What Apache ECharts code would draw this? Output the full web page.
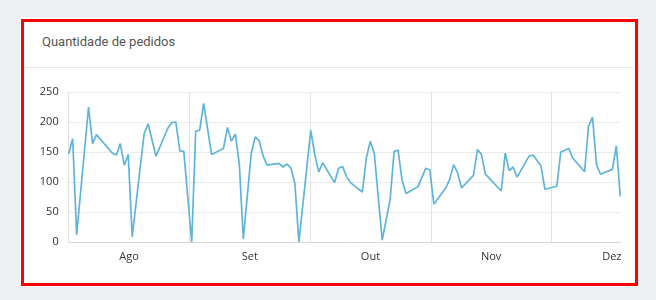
<!DOCTYPE html>
<html>
<head>
<meta charset="utf-8">
<script src="https://cdn.jsdelivr.net/npm/echarts@6/dist/echarts.min.js"></script>
<style>
  html, body { margin: 0; padding: 0; width: 656px; height: 300px; background: #eef0f4; overflow: hidden; }
  #card { position: absolute; left: 20px; top: 17px; width: 618px; height: 270px; background: #fff; box-shadow: 0 0 2px rgba(0,0,0,0.05); }
  #title { position: absolute; left: 42px; top: 34px; font-family: Roboto, "Open Sans", sans-serif; font-size: 13px; color: #555; }
  #sep { position: absolute; left: 24px; top: 67px; width: 610px; height: 1px; background: #e9e9ec; }
  #redbox { position: absolute; left: 21px; top: 19px; width: 617px; height: 267px; border: 3px solid #ff0000; box-sizing: border-box; }
  #chart { position: absolute; left: 0; top: 0; width: 656px; height: 300px; }
</style>
</head>
<body>
<div id="card"></div>
<div id="title">Quantidade de pedidos</div>
<div id="sep"></div>
<div id="chart"></div>
<div id="redbox"></div>
<script>
// ---- data ----
const startDate = '2023-07-17';
const dates = [
  '2023-07-17','2023-07-18','2023-07-19','2023-07-22','2023-07-23','2023-07-24','2023-07-28','2023-07-29','2023-07-30','2023-07-31',
  '2023-08-01','2023-08-02','2023-08-05','2023-08-06','2023-08-08','2023-08-11','2023-08-12','2023-08-13','2023-08-14','2023-08-15',
  '2023-08-17','2023-08-18','2023-08-19','2023-08-20','2023-08-22','2023-08-25','2023-08-26','2023-08-27','2023-08-28','2023-08-29',
  '2023-08-30','2023-09-01','2023-09-02','2023-09-03','2023-09-04','2023-09-05','2023-09-08','2023-09-09','2023-09-10','2023-09-11',
  '2023-09-12','2023-09-13','2023-09-16','2023-09-17','2023-09-18','2023-09-19','2023-09-22','2023-09-23','2023-09-24','2023-09-25',
  '2023-09-26','2023-09-29','2023-09-30','2023-10-01','2023-10-02','2023-10-04','2023-10-06','2023-10-07','2023-10-08','2023-10-09',
  '2023-10-10','2023-10-13','2023-10-15','2023-10-16','2023-10-17','2023-10-20','2023-10-21','2023-10-22','2023-10-23','2023-10-24',
  '2023-10-27','2023-10-28','2023-10-29','2023-10-30','2023-11-03','2023-11-04','2023-11-05','2023-11-06','2023-11-07','2023-11-10',
  '2023-11-11','2023-11-13','2023-11-14','2023-11-17','2023-11-18','2023-11-20','2023-11-21','2023-11-24','2023-11-25','2023-11-26',
  '2023-11-27','2023-11-28','2023-12-01','2023-12-02','2023-12-03'
];
const pedidos = [
  147,172,12,225,164,179,148,145,164,128,
  146,9,180,197,143,190,199,200,152,151,
  0,185,186,231,146,156,191,168,180,129,
  5,148,175,169,143,128,131,125,130,123,
  97,0,186,146,117,132,99,123,126,109,
  99,83,140,168,148,3,71,151,153,103,
  81,92,123,120,63,90,104,129,115,90,
  111,154,146,113,85,148,119,125,108,143,
  145,127,88,93,150,156,140,117,193,208,
  129,113,121,160,76
];
const monthLabels = ['Ago', 'Set', 'Out', 'Nov', 'Dez'];
const yTicks = [0, 50, 100, 150, 200, 250];
const totalDays = 139;

// ---- build ----
const dayMs = 86400000;
const t0 = Date.parse(startDate);
const seriesData = dates.map((d, i) => [Math.round((Date.parse(d) - t0) / dayMs), pedidos[i]]);
const halfMonth = 365 / 24;

const chart = echarts.init(document.getElementById('chart'), null, { renderer: 'canvas' });
chart.setOption({
  animation: false,
  backgroundColor: 'transparent',
  grid: { left: 68.7, right: 35.7, top: 92, bottom: 58, containLabel: false },
  xAxis: {
    type: 'value',
    min: 0,
    max: totalDays,
    interval: halfMonth,
    axisLine: { show: true, lineStyle: { color: '#d8d8d8', width: 1 } },
    axisTick: { show: false },
    axisLabel: {
      margin: 9,
      color: '#333',
      fontSize: 11,
      fontFamily: '"Open Sans", sans-serif',
      hideOverlap: false,
      showMinLabel: true,
      showMaxLabel: true,
      formatter: function (v) {
        const k = Math.round(v / halfMonth);
        if (Math.abs(v - k * halfMonth) < 0.05 && k % 2 === 1) {
          return monthLabels[(k - 1) / 2] || '';
        }
        return '';
      }
    },
    splitLine: {
      show: true,
      showMaxLine: false,
      lineStyle: { color: ['#e2e2e2', 'rgba(0,0,0,0)'], width: 1 }
    }
  },
  yAxis: {
    type: 'value',
    min: yTicks[0],
    max: yTicks[yTicks.length - 1],
    interval: 50,
    axisLine: { show: false },
    axisTick: { show: false },
    axisLabel: {
      margin: 10,
      color: '#333',
      fontSize: 11,
      fontFamily: '"Open Sans", sans-serif'
    },
    splitLine: { show: true, lineStyle: { color: '#ebebeb', width: 1 } }
  },
  series: [{
    type: 'line',
    data: seriesData,
    showSymbol: false,
    smooth: false,
    lineStyle: { color: '#5fb4dc', width: 1.7 },
    itemStyle: { color: '#5fb4dc' }
  }]
});
</script>
</body>
</html>
